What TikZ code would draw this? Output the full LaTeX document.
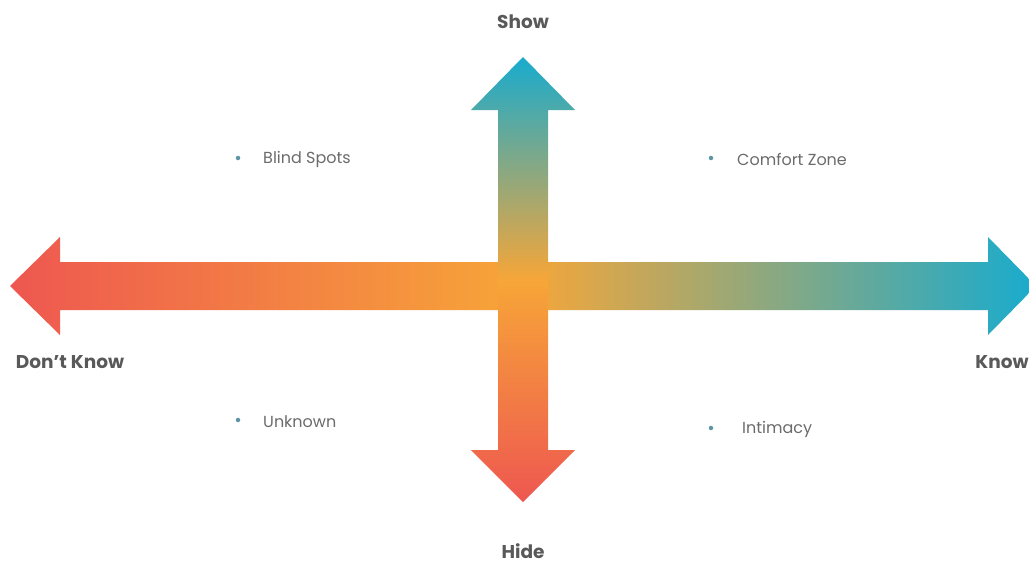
\documentclass[tikz,border=0pt]{standalone}
\usepackage{fontspec}
\setmainfont{Poppins}
\definecolor{redc}{HTML}{EE5750}
\definecolor{orangec}{HTML}{F7A638}
\definecolor{tealc}{HTML}{18ABCE}
\definecolor{bulletc}{HTML}{5E95A6}
\pgfdeclarehorizontalshading{hgrad}{100bp}{color(0bp)=(redc); color(25bp)=(redc); color(50bp)=(orangec); color(75bp)=(tealc); color(100bp)=(tealc)}
\pgfdeclareverticalshading{vgrad}{100bp}{color(0bp)=(redc); color(25bp)=(redc); color(50bp)=(orangec); color(75bp)=(tealc); color(100bp)=(tealc)}
\begin{document}
\begin{tikzpicture}[x=1pt,y=-1pt,
  axislabel/.style={font=\fontsize{18.5}{20}\selectfont\bfseries, text=black!65, inner sep=0pt},
  itemlabel/.style={font=\fontsize{16}{18}\selectfont, text=black!58, inner sep=0pt, anchor=west},
  bulletdot/.style={circle, fill=bulletc, inner sep=0pt, minimum size=4.5pt}]
\useasboundingbox (0,0) rectangle (1029,565);
% horizontal arrow
\shade[shading=hgrad]
  (10,286) -- (60,237) -- (60,262) -- (988,262) -- (988,237) -- (1036,286)
  -- (988,335) -- (988,310) -- (60,310) -- (60,335) -- cycle;
% vertical arrow
\shade[shading=vgrad]
  (523,57) -- (575,110) -- (548,110) -- (548,450) -- (575,450) -- (523,502)
  -- (471,450) -- (498,450) -- (498,110) -- (471,110) -- cycle;
% axis labels
\node[axislabel] (show) at (523,22) {Show};
\node[axislabel] (hide) at (523,551) {Hide};
\node[axislabel] (dontknow) at (70,362) {Don't Know};
\node[axislabel] (know) at (1002,362) {Know};
% quadrant items
\node[bulletdot] (b1) at (238,158) {};
\node[itemlabel] (blind) at (263,159.5) {Blind Spots};
\node[bulletdot] (b2) at (711,158) {};
\node[itemlabel] (comfort) at (737,159.5) {Comfort Zone};
\node[bulletdot] (b3) at (238,420) {};
\node[itemlabel] (unknown) at (263,421.5) {Unknown};
\node[bulletdot] (b4) at (711,428) {};
\node[itemlabel] (intimacy) at (742,429.5) {Intimacy};
\end{tikzpicture}
\end{document}
